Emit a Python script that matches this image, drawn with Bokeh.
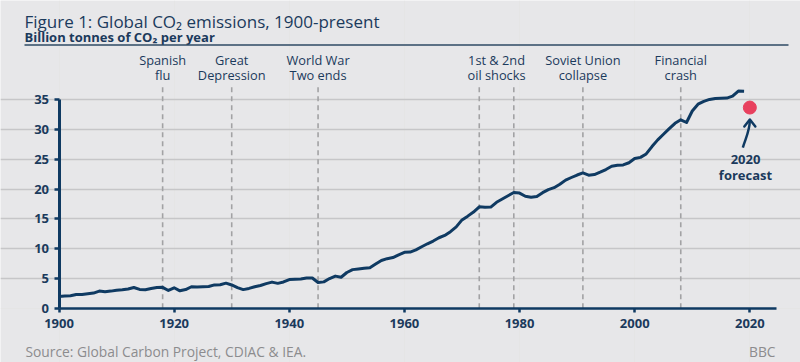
from bokeh.plotting import figure
from bokeh.models import LinearAxis, FixedTicker, Grid, Range1d
from bokeh.core.properties import value
from bokeh.embed import file_html
from bokeh.resources import INLINE

# ---------------- data ----------------
years = list(range(1900, 2020))
emissions = [
    1.95, 2.03, 2.09, 2.30, 2.30, 2.42, 2.54, 2.88, 2.76, 2.87,
    3.03, 3.09, 3.23, 3.48, 3.15, 3.11, 3.31, 3.49, 3.50, 2.98,
    3.43, 2.92, 3.13, 3.60, 3.58, 3.61, 3.64, 3.91, 3.94, 4.21,
    3.90, 3.46, 3.12, 3.32, 3.60, 3.81, 4.12, 4.38, 4.17, 4.41,
    4.81, 4.87, 4.90, 5.06, 5.07, 4.31, 4.42, 4.98, 5.39, 5.20,
    6.00, 6.48, 6.60, 6.71, 6.79, 7.41, 8.02, 8.32, 8.51, 8.95,
    9.39, 9.42, 9.79, 10.32, 10.82, 11.28, 11.83, 12.22, 12.86, 13.66,
    14.83, 15.46, 16.15, 17.02, 16.97, 16.98, 17.79, 18.34, 18.88, 19.44,
    19.33, 18.80, 18.64, 18.75, 19.40, 19.91, 20.24, 20.83, 21.51, 21.95,
    22.37, 22.72, 22.34, 22.44, 22.84, 23.29, 23.84, 24.00, 24.06, 24.43,
    25.13, 25.33, 25.91, 27.15, 28.27, 29.21, 30.15, 31.05, 31.64, 31.19,
    33.12, 34.26, 34.73, 35.06, 35.22, 35.26, 35.29, 35.61, 36.47, 36.44,
]
forecast_year = [2020]
forecast_value = [33.7]

event_years = [1918, 1930, 1945, 1973, 1979, 1991, 2008]
event_labels = ["Spanish\nflu", "Great\nDepression", "World War\nTwo ends",
                "1st & 2nd\noil shocks", "Soviet Union\ncollapse", "Financial\ncrash"]
event_label_years = [1918, 1930, 1945, 1976, 1991, 2008]

x_ticks = [1900, 1920, 1940, 1960, 1980, 2000, 2020]
y_ticks = [0, 5, 10, 15, 20, 25, 30, 35]

title = "Figure 1: Global CO\u2082 emissions, 1900-present"
subtitle = "Billion tonnes of CO\u2082 per year"
source = "Source: Global Carbon Project, CDIAC & IEA."
credit = "BBC"
forecast_label = ["2020", "forecast"]

# ---------------- layout helpers ----------------
W, H = 800, 362
X0_PX, PX_PER_YEAR = 58.5, 5.757     # picture px of 1900, px per year
Y0_PX, PX_PER_UNIT = 307.7, 5.954    # picture px of 0, px per unit


def px2x(px):
    return 1900 + (px - X0_PX) / PX_PER_YEAR


def py2y(py):
    return (Y0_PX - py) / PX_PER_UNIT


NAVY = "#0f3a62"
TEXT = "#1b3a5c"
BG = "#e7e7e9"
FONT = "Open Sans"

p = figure(width=W, height=H, output_backend="svg", toolbar_location=None,
           x_axis_location=None, y_axis_location=None,
           x_range=Range1d(px2x(0), px2x(W)),
           y_range=Range1d(py2y(H), py2y(0)),
           min_border=0, outline_line_color=None,
           background_fill_color=BG, border_fill_color=BG)

x_end = px2x(776)

# grid
grid = Grid(dimension=1, ticker=FixedTicker(ticks=y_ticks[1:]), bounds=(1900, x_end),
            grid_line_color="#c6c6c8", grid_line_width=1.3)
p.add_layout(grid)

# event lines
p.segment(x0=event_years, y0=[0] * len(event_years), x1=event_years,
          y1=[py2y(84)] * len(event_years), line_color="#a2a2a4",
          line_width=1.6, line_dash="5 4")

tops = [s.split("\n")[0] for s in event_labels]
bottoms = [s.split("\n")[1] for s in event_labels]
p.text(x=event_label_years, y=[py2y(59)] * len(event_label_years), text=tops,
       text_align="center", text_baseline="middle", text_font=value(FONT),
       text_font_size="12.8px", text_color=TEXT)
p.text(x=event_label_years, y=[py2y(74)] * len(event_label_years), text=bottoms,
       text_align="center", text_baseline="middle", text_font=value(FONT),
       text_font_size="12.8px", text_color=TEXT)

# main line
p.line(years, emissions, line_color=NAVY, line_width=3, line_join="round")

# forecast
p.scatter(forecast_year, forecast_value, size=13, color="#e8405e")
fx, fy = forecast_year[0], forecast_value[0]
tip_y = fy - 12 / PX_PER_UNIT
p.bezier(x0=[fx - 7 / PX_PER_YEAR], y0=[fy - 40 / PX_PER_UNIT],
         x1=[fx], y1=[tip_y - 1 / PX_PER_UNIT],
         cx0=[fx - 4 / PX_PER_YEAR], cy0=[fy - 30 / PX_PER_UNIT],
         cx1=[fx - 0.3 / PX_PER_YEAR], cy1=[fy - 24 / PX_PER_UNIT],
         line_color=NAVY, line_width=2.5)
p.line(x=[fx - 5.5 / PX_PER_YEAR, fx, fx + 5.5 / PX_PER_YEAR],
       y=[tip_y - 7 / PX_PER_UNIT, tip_y, tip_y - 7 / PX_PER_UNIT],
       line_color=NAVY, line_width=2.5, line_join="round", line_cap="round")
p.text(x=[px2x(745)] * 2, y=[py2y(159), py2y(174)], text=forecast_label,
       text_align="center", text_baseline="middle", text_font=value(FONT),
       text_font_size="13px", text_font_style="bold", text_color=TEXT)

# axes
xaxis = LinearAxis(fixed_location=0, bounds=(1900, x_end),
                   ticker=FixedTicker(ticks=x_ticks))
xaxis.axis_line_color = NAVY
xaxis.axis_line_width = 2.5
xaxis.major_tick_line_color = NAVY
xaxis.major_tick_line_width = 2.5
xaxis.major_tick_in = 0
xaxis.major_tick_out = 4
xaxis.minor_tick_line_color = None
xaxis.major_label_standoff = 7
xaxis.major_label_text_font = FONT
xaxis.major_label_text_font_size = "13px"
xaxis.major_label_text_font_style = "bold"
xaxis.major_label_text_color = TEXT
p.add_layout(xaxis, "below")

yaxis = LinearAxis(fixed_location=1900, bounds=(0, 35),
                   ticker=FixedTicker(ticks=y_ticks))
yaxis.axis_line_color = NAVY
yaxis.axis_line_width = 3
yaxis.major_tick_line_color = NAVY
yaxis.major_tick_line_width = 2.5
yaxis.major_tick_in = 0
yaxis.major_tick_out = 5
yaxis.minor_tick_line_color = None
yaxis.major_label_standoff = 5
yaxis.major_label_text_font = FONT
yaxis.major_label_text_font_size = "13px"
yaxis.major_label_text_font_style = "bold"
yaxis.major_label_text_color = TEXT
p.add_layout(yaxis, "left")

# titles
p.text(x=[px2x(24)], y=[py2y(21)], text=[title], text_align="left",
       text_baseline="alphabetic", text_font=value(FONT), text_font_size="17px",
       text_color=TEXT)
p.text(x=[px2x(24)], y=[py2y(36)], text=[subtitle], text_align="left",
       text_baseline="alphabetic", text_font=value(FONT), text_font_size="13px",
       text_font_style="bold", text_color=TEXT)
p.segment(x0=[px2x(24)], y0=[py2y(44.5)], x1=[px2x(788)], y1=[py2y(44.5)],
          line_color="#2e4a63", line_width=1.5)

# source & credit
p.text(x=[px2x(25)], y=[py2y(350.5)], text=[source], text_align="left",
       text_baseline="middle", text_font=value(FONT), text_font_size="13.8px",
       text_color="#8c8c8e")
p.text(x=[px2x(775)], y=[py2y(350.5)], text=[credit], text_align="right",
       text_baseline="middle", text_font=value(FONT), text_font_size="13.8px",
       text_color="#8c8c8e")

open("out.html", "w").write(file_html(p, INLINE))
